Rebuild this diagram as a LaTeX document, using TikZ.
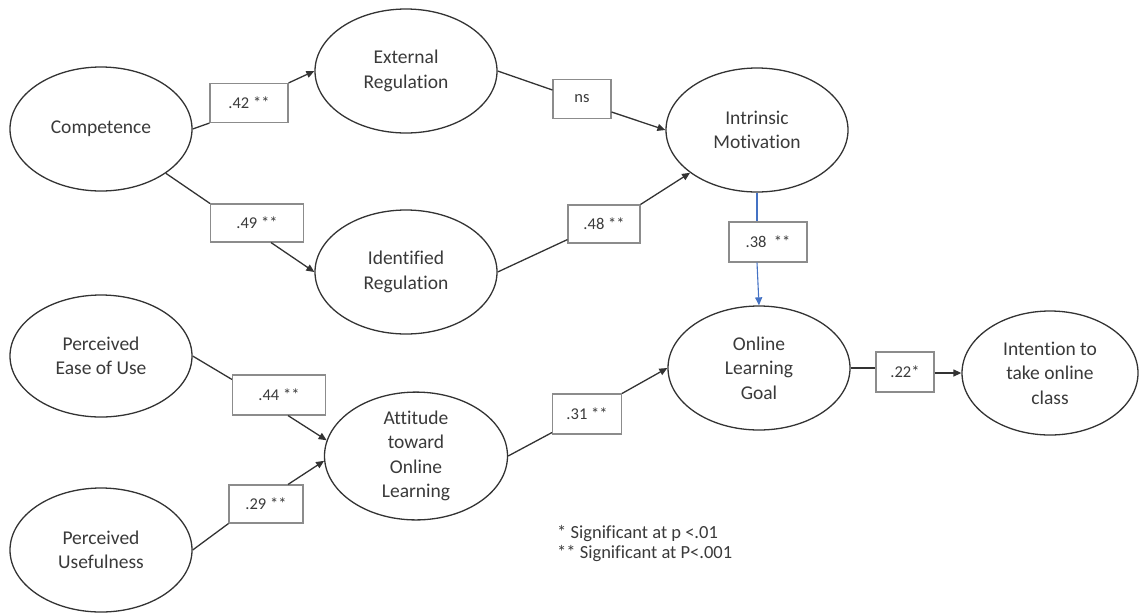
\documentclass[tikz,border=0pt]{standalone}
\usepackage{fontspec}
\setmainfont{Carlito}[Ligatures={NoCommon}]
\usetikzlibrary{shapes.geometric,arrows.meta}
\definecolor{txt}{HTML}{3A3A3A}
\definecolor{edge}{HTML}{333333}
\definecolor{boxc}{HTML}{8C8C8C}
\definecolor{blueln}{HTML}{4472C4}
\tikzset{
  construct/.style={ellipse, draw=edge, line width=1.3pt, fill=white, inner sep=0pt,
    minimum width=182pt, minimum height=124pt, align=center, text=txt,
    font=\fontsize{19.5}{24.5}\selectfont},
  coef/.style={rectangle, draw=boxc, line width=1.1pt, fill=white, inner sep=0pt,
    minimum height=39pt, text=txt, font=\fontsize{16.5}{19}\selectfont},
  link/.style={draw=edge, line width=1.3pt},
  arr/.style={link, -{Triangle[length=8pt,width=7pt]}},
  bluearr/.style={draw=blueln, line width=1.1pt, -{Triangle[length=8pt,width=7pt]}},
}
\begin{document}
\begin{tikzpicture}[x=1pt,y=-1pt]
\useasboundingbox (0,0) rectangle (1140,614);
% constructs
\node[construct] (comp) at (101,129) {Competence};
\node[construct] (ext) at (406,71) {External\\Regulation};
\node[construct] (ident) at (406,272) {Identified\\Regulation};
\node[construct] (intr) at (757,130) {Intrinsic\\Motivation};
\node[construct] (olg) at (759,368) {Online\\Learning\\Goal};
\node[construct, minimum width=176pt] (intn) at (1050,373) {Intention to\\take online\\class};
\node[construct, minimum height=122pt] (peu) at (101,356) {Perceived\\Ease of Use};
\node[construct] (pu) at (101,550) {Perceived\\Usefulness};
\node[construct, minimum width=183pt, minimum height=123pt] (att) at (416,456) {Attitude\\toward\\Online\\Learning};
% coefficient boxes
\node[coef, minimum width=78pt] (l42) at (249,103) {.42 **};
\node[coef, minimum width=93pt, minimum height=38pt] (l49) at (257,223) {.49 **};
\node[coef, minimum width=58pt] (lns) at (582,99) {ns};
\node[coef, minimum width=72pt, minimum height=38pt] (l48) at (604,224) {.48 **};
\node[coef, minimum width=78pt, minimum height=40pt] (l38) at (768,242) {.38 \ **};
\node[coef, minimum width=58pt, minimum height=40pt] (l22) at (905,372) {.22*};
\node[coef, minimum width=93pt, minimum height=40pt] (l44) at (279,395) {.44 **};
\node[coef, minimum width=74pt, minimum height=38pt] (l29) at (266,504) {.29 **};
\node[coef, minimum width=69pt, minimum height=40pt] (l31) at (587,414) {.31 **};
% connectors
\draw[link] (comp.east) -- (l42.south west);
\draw[arr] (l42.north east) -- (ext.west);
\draw[link] (comp) -- (l49.north west);
\draw[arr] ([xshift=14pt]l49.south) -- (ident.west);
\draw[link] (ext.east) -- ([yshift=9pt]lns.west);
\draw[arr] ([yshift=-13pt]lns.east) -- (intr.west);
\draw[link] (ident.east) -- ([yshift=4pt]l48.south west);
\draw[arr] (l48.north east) -- (intr);
\draw[draw=blueln, line width=1.1pt] (intr.south) -- (intr.south |- l38.north);
\draw[bluearr] (intr.south |- l38.south) -- (olg.north);
\draw[link] (olg.east) -- (olg.east -| l22.west);
\draw[arr] (l22.east |- intn.west) -- (intn.west);
\draw[link] (peu.east) -- ([yshift=-5pt]l44.north west);
\draw[arr] ([xshift=9pt]l44.south) -- (att.170);
\draw[link] (pu.east) -- (l29.south west);
\draw[arr] ([xshift=22pt]l29.north) -- (att.183);
\draw[link] (att.east) -- ([yshift=2pt]l31.south west);
\draw[arr] (l31.north east) -- (olg.west);
% legend
\node[anchor=north west, align=left, text=txt, inner sep=0pt,
  font=\fontsize{18.5}{20.5}\selectfont] (legend) at (557,525)
  {* Significant at p <.01\\** Significant at P<.001};
\end{tikzpicture}
\end{document}
